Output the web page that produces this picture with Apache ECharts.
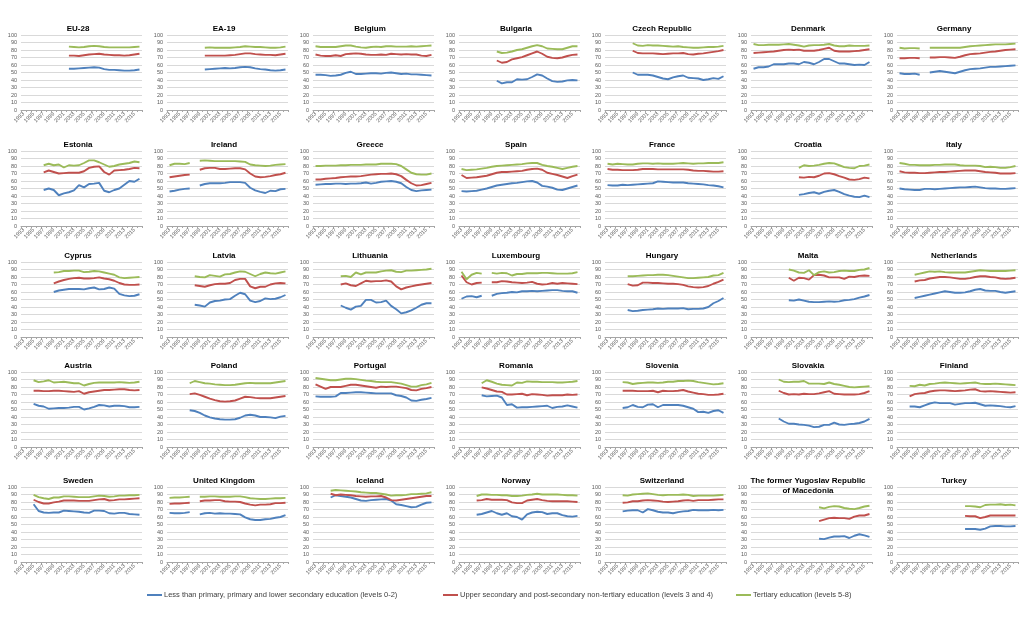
<!DOCTYPE html>
<html lang="en">
<head>
    <meta charset="UTF-8">
    <title>Employment rate by educational attainment</title>
    <script src="https://cdn.jsdelivr.net/npm/echarts@6/dist/echarts.min.js"></script>
    <style>
        html, body { margin: 0; padding: 0; background: #fff; }
        #main { width: 1024px; height: 618px; }
    </style>
</head>
<body>
<div id="main"></div>
<script type="text/javascript">
    var years = ['1993', '1994', '1995', '1996', '1997', '1998', '1999', '2000', '2001', '2002', '2003', '2004',
        '2005', '2006', '2007', '2008', '2009', '2010', '2011', '2012', '2013', '2014', '2015', '2016'];
    var yTicks = [0, 10, 20, 30, 40, 50, 60, 70, 80, 90, 100];
    var seriesNames = [
        'Less than primary, primary and lower secondary education (levels 0-2)',
        'Upper secondary and post-secondary non-tertiary education (levels 3 and 4)',
        'Tertiary education (levels 5-8)'
    ];

    var countries = ['EU-28', 'EA-19', 'Belgium', 'Bulgaria', 'Czech Republic', 'Denmark', 'Germany',
        'Estonia', 'Ireland', 'Greece', 'Spain', 'France', 'Croatia', 'Italy',
        'Cyprus', 'Latvia', 'Lithuania', 'Luxembourg', 'Hungary', 'Malta', 'Netherlands',
        'Austria', 'Poland', 'Portugal', 'Romania', 'Slovenia', 'Slovakia', 'Finland',
        'Sweden', 'United Kingdom', 'Iceland', 'Norway', 'Switzerland', 'The former Yugoslav Republic\nof Macedonia', 'Turkey'];

    // first year with data, per country
    var startYear = [2002, 2000, 1993, 2000, 1998, 1993, 1993,
        1997, 1993, 1993, 1993, 1993, 2002, 1993,
        1999, 1998, 1998, 1993, 1997, 2000, 1996,
        1995, 1997, 1993, 1997, 1996, 1998, 1995,
        1995, 1993, 1996, 1996, 1996, 2006, 2006];

    // levels 0-2
    var low = [
        [55, 55, 55.5, 56, 56.5, 57, 56.5, 54.5, 53.5, 53.5, 53, 52.5, 52.5, 53, 54],
        [54, 54.5, 55, 55.5, 56, 55.5, 56, 57, 57.5, 57, 55.5, 54.5, 54, 53, 52.5, 53, 54],
        [47, 47, 46.5, 45.5, 46, 47, 49.5, 51, 48, 48, 48.5, 49, 49, 48.5, 49.5, 50, 49, 48, 48.5, 47.5, 47.5, 47, 46.5, 46],
        [39, 35.5, 37, 37, 41, 40.5, 41, 44, 47.5, 46, 42, 38.5, 37.5, 38, 39.5, 40, 39.5],
        [50, 47, 47, 47, 46, 44, 42, 41, 43.5, 45, 46, 43, 42.5, 42, 40, 41, 42.5, 41.5, 45],
        [55, 57, 57, 58, 61, 61, 61, 62, 62, 61, 64, 63, 61, 64, 68, 68, 65, 62, 62, 61, 60, 60.5, 60, 64],
        [49, 48, 48, 48.5, 47, null, 50, 51, 52, 51, 50, 49, 51, 53, 54.5, 55, 55.5, 56.5, 57.5, 57.5, 58, 58.5, 59, 59.5],
        [48, 50, 48, 41, 43.5, 45, 47.5, 54.5, 51.5, 56, 56.5, 57.5, 47, 45, 48, 50, 55, 60, 59, 63],
        [46, 47, 48.5, 49.5, 50, null, 54, 56, 57, 57, 57, 57.5, 58.5, 58.5, 58.5, 57.5, 51, 47.5, 45.5, 44, 47, 46.5, 49, 49.5],
        [55, 55.5, 56, 56, 56.5, 56.5, 56, 56.5, 56.5, 57, 58, 56.5, 57.5, 59, 59.5, 60, 59, 57, 52, 48, 46.5, 47.5, 48, 48.5],
        [46.5, 46, 46.5, 47, 48.5, 50, 52, 54, 55, 56, 57, 57.5, 58.5, 59.5, 60, 58, 53.5, 52.5, 51, 48.5, 48, 50, 52, 54],
        [54.5, 54, 54, 55, 54.5, 55, 55.5, 56, 56.5, 57, 59.5, 59, 58.5, 58, 58, 58, 57, 56.5, 56, 55.5, 54.5, 54, 53, 51.5],
        [41.5, 42.5, 44, 45, 43, 45.5, 47, 48, 45.5, 42.5, 40.5, 39, 38.5, 40.5, 38.5],
        [50, 49, 48.5, 48, 48, 49.5, 49.5, 49, 49.5, 50, 50.5, 51, 51.5, 51.5, 52, 52.5, 51.5, 50.5, 50, 50, 49.5, 49.5, 50, 50.5],
        [60, 62, 63, 64, 64, 64, 63.5, 65, 66, 63.5, 64, 66, 64.5, 57.5, 55.5, 54.5, 55, 57],
        [43, 42, 40.5, 46, 48, 48.5, 50, 50.5, 55, 59, 57, 48.5, 46.5, 48, 51.5, 50.5, 51, 53, 56],
        [42, 39, 36.5, 40.5, 41.5, 49.5, 49.5, 46, 46.5, 48.5, 41.5, 37, 31.5, 33, 35.5, 39, 43, 45, 45],
        [51, 54, 54.5, 53, 55, null, 55, 57.5, 58.5, 59, 60, 59.5, 61, 61, 61.5, 61, 61.5, 62, 62.5, 62.5, 61.5, 61, 61, 59],
        [36, 34.5, 35, 36, 36.5, 37, 38, 37.5, 38, 38, 38, 38.5, 37, 37.5, 37.5, 38, 40, 45, 48, 52],
        [49, 48.5, 50, 48.5, 47, 46.5, 46.5, 47, 47.5, 47, 47.5, 49, 49.5, 50.5, 52.5, 54, 56],
        [52, 53.5, 55, 56.5, 58, 59.5, 61, 60, 59, 59, 59.5, 61, 63, 64, 62, 61.5, 61.5, 60, 59, 60, 61],
        [57.5, 55, 54, 51, 51.5, 52, 52, 52.5, 53.5, 53.5, 50, 51.5, 53.5, 56, 55.5, 54, 55, 55, 54.5, 53, 53, 53.5],
        [49, 48, 45.5, 42, 39.5, 38, 37, 36.5, 36.5, 37, 39, 42, 43, 42, 40, 40, 39.5, 38.5, 40.5, 41.5],
        [67.5, 67, 67, 67, 67.5, 72, 72, 72.5, 73, 73, 72.5, 72, 71.5, 71.5, 71.5, 71.5, 69, 68, 66, 62, 61.5, 63, 64, 65.5],
        [69, 67.5, 68, 68.5, 66, 56, 57, 52.5, 53, 53, 53.5, 54, 54.5, 55, 52, 53.5, 54, 55.5, 54, 52.5],
        [52, 53, 56, 53.5, 53, 56.5, 57, 53, 56, 56, 56, 56, 55, 53, 51, 46.5, 47, 45.5, 48, 49, 45.5],
        [38, 34, 31, 31, 30, 29.5, 28.5, 26.5, 27, 29.5, 29.5, 32.5, 30, 29.5, 30.5, 31, 32, 34, 37.5],
        [54, 54, 53, 55.5, 58, 59.5, 58.5, 58.5, 58.5, 56.5, 57.5, 58.5, 58.5, 59, 57, 55, 55.5, 55, 54.5, 53.5, 53, 54.5],
        [77, 68, 66, 65.5, 66, 66, 68.5, 68, 67.5, 67, 66, 65.5, 68.5, 68.5, 68, 65, 64.5, 65.5, 65.5, 64, 63.5, 63],
        [65.5, 65, 65, 65.5, 66.5, null, 63.5, 65, 65.5, 64.5, 65, 64.5, 64.5, 64, 63.5, 59.5, 57, 56, 56, 57, 57.5, 59, 60, 62.5],
        [86, 89, 88, 87, 86, 84, 82, 81.5, 82.5, 83, 83.5, 84, 82, 77, 76, 74.5, 73, 73.5, 76.5, 79, 79.5],
        [63, 64, 66, 68, 65, 63, 65, 61, 60, 56.5, 63.5, 66, 67, 66.5, 64, 65, 65, 62.5, 61, 60.5, 61.5],
        [67.5, 68.5, 69, 69, 66, 70.5, 69, 67, 66, 66, 65, 66.5, 67.5, 68, 69.5, 69, 69, 69, 69.5, 69, 69.5],
        [31, 30.5, 32.5, 34, 34, 34.5, 32, 35, 37, 35.5, 33.5],
        [44, 44, 44, 43, 44.5, 47.5, 48, 48, 47.5, 47.5, 48]
    ];

    // levels 3 and 4
    var mid = [
        [72.5, 72.5, 72, 73, 74, 74.5, 75, 74, 73.5, 73, 73, 72.5, 73, 74, 75],
        [72.5, 72.5, 72.5, 72.5, 72.5, 73, 73.5, 74.5, 75.5, 75.5, 74.5, 74, 73.5, 73.5, 73, 74, 75],
        [74, 72.5, 72, 72, 73, 72, 74.5, 75, 75.5, 75, 74, 73.5, 73.5, 74, 73.5, 75, 74.5, 74, 74.5, 74, 74, 72.5, 72, 73.5],
        [66, 63, 64, 67.5, 69, 70.5, 73, 75.5, 78, 75, 71, 69.5, 69, 70, 72, 73.5, 74],
        [79, 76, 75.5, 75.5, 75.5, 75, 74.5, 75, 75.5, 75.5, 76, 74.5, 74, 75, 75.5, 76.5, 77.5, 78.5, 80],
        [76, 76.5, 77, 77.5, 78, 79, 80, 80.5, 80, 80.5, 79, 79, 79, 80, 81.5, 83, 79, 78, 78, 78, 78.5, 79, 80, 81],
        [69, 69, 69.5, 69.5, 69, null, 70, 70, 70.5, 70.5, 70, 69.5, 71, 73, 74.5, 75, 75.5, 76.5, 77.5, 78, 79, 80, 80.5, 81],
        [71.5, 74, 72, 70, 70.5, 71, 71, 71, 73, 77.5, 79, 79.5, 72, 68.5, 74, 74.5, 75, 76, 77.5, 77],
        [65, 66, 67, 68, 68.5, null, 75, 77, 77.5, 77.5, 76, 76, 76.5, 77, 77, 75.5, 70, 66, 65, 65.5, 66.5, 68, 69, 71],
        [62, 62, 63, 63.5, 64, 65, 65.5, 66, 66, 66.5, 67.5, 68.5, 69, 69.5, 69.5, 70, 69, 66.5, 61.5, 57, 54, 54.5, 56, 57.5],
        [68, 64, 64.5, 65, 66, 67, 69, 71, 72, 72, 72.5, 73, 73.5, 75, 76, 76.5, 75, 71, 69.5, 68, 66, 64, 66.5, 68.5],
        [76, 75, 75, 74.5, 74.5, 74.5, 75, 76, 76, 76, 75.5, 75.5, 75.5, 75.5, 75.5, 75.5, 75, 74, 73.5, 73.5, 73, 72.5, 72.5, 73],
        [65, 64.5, 65.5, 65, 67, 70, 70.5, 69, 66.5, 64.5, 62, 61.5, 62.5, 64.5, 63.5],
        [73, 71.5, 71, 71, 70.5, 70.5, 71, 71.5, 72, 72, 72.5, 73, 73.5, 74, 74, 74, 73, 72, 71.5, 71, 70, 70, 70, 70.5],
        [71.5, 74, 76, 77.5, 78.5, 79, 78, 78, 78.5, 79.5, 78, 77, 75, 72, 70, 69.5, 69.5, 70],
        [69, 68, 67, 69, 70.5, 71, 71, 72, 76, 77.5, 77.5, 67.5, 65, 67, 67, 70, 71.5, 72, 71.5],
        [70, 71.5, 69, 68, 71.5, 75, 74, 74.5, 74.5, 75.5, 74, 67.5, 63.5, 66, 67.5, 69, 70, 71, 72],
        [82, 73, 70, 72, 72.5, null, 73, 73, 74.5, 74, 73, 72.5, 72, 72.5, 73.5, 71, 70, 70.5, 72, 71, 72, 71.5, 71, 70.5],
        [70.5, 68.5, 69, 72.5, 72.5, 72, 72, 71.5, 71, 71, 70.5, 69.5, 67.5, 66.5, 66, 66.5, 68, 71, 73.5, 76.5],
        [79, 75, 79, 78.5, 76.5, 82.5, 83, 82, 79.5, 79.5, 79.5, 77.5, 80.5, 80, 81.5, 82, 81.5],
        [74, 75.5, 76, 78, 79, 80, 80, 79.5, 78.5, 77.5, 77.5, 78.5, 80, 81, 81, 80, 79.5, 78, 77.5, 78, 79],
        [75, 75, 74.5, 74.5, 75, 75, 74.5, 74, 73.5, 74.5, 71, 73, 74, 75, 76, 76, 76.5, 77, 77, 76, 75.5, 76],
        [70.5, 71.5, 69.5, 67, 64.5, 62.5, 61, 60.5, 61, 62, 64.5, 67, 66.5, 65.5, 65, 65, 65, 66, 67, 68],
        [83.5, 80.5, 77.5, 80, 80, 80, 81.5, 83, 83, 82, 81, 80, 79, 80.5, 80, 80.5, 80.5, 79.5, 78.5, 76, 75.5, 77.5, 78.5, 80],
        [79.5, 78, 76, 74, 73.5, 70, 70, 70.5, 71, 69, 70.5, 70, 69.5, 68.5, 69, 69, 69, 70, 69.5, 70],
        [75, 75, 75, 74.5, 74.5, 74.5, 75, 73, 75, 74.5, 74.5, 75, 76, 74, 72.5, 71, 70.5, 69.5, 69.5, 70, 71],
        [75, 72, 70, 70.5, 70, 71, 70.5, 70.5, 71.5, 73, 74.5, 71, 70.5, 70, 70, 70, 70.5, 72, 74.5],
        [67.5, 70.5, 71.5, 72, 74, 75, 75.5, 75.5, 75, 74.5, 75, 75.5, 76.5, 77, 74.5, 74, 74.5, 74, 73.5, 73, 72.5, 73],
        [83, 80, 78, 78, 79.5, 80.5, 82, 82, 82, 81.5, 81.5, 81.5, 82.5, 83.5, 84, 82, 82.5, 83.5, 83.5, 84, 84.5, 85],
        [77.5, 78, 78, 78.5, 79, null, 81, 82, 82, 82.5, 82.5, 81, 80.5, 80.5, 80, 78, 76.5, 75.5, 76.5, 76.5, 77, 78.5, 78.5, 79],
        [91, 89, 90, 89.5, 89, 88, 87.5, 87, 87.5, 87.5, 88, 86, 82.5, 82, 83, 84, 85, 86, 87, 88, 88],
        [82, 82.5, 84, 83, 83, 83, 82.5, 79.5, 78.5, 78.5, 82, 83, 84, 82.5, 81.5, 81, 81, 81, 81, 80.5, 80],
        [79, 79.5, 81, 81, 82, 82.5, 82, 81.5, 80.5, 80, 80.5, 81, 82, 82.5, 81.5, 82.5, 82.5, 82.5, 83, 83.5, 83.5],
        [54.5, 56.5, 58.5, 59, 58.5, 58.5, 57.5, 60.5, 62, 62, 64],
        [61.5, 61, 61, 58.5, 60, 62, 62, 62, 62, 62, 62]
    ];

    // levels 5-8
    var high = [
        [84.5, 84, 83.5, 84, 85, 85.5, 85, 84, 83.5, 83.5, 83.5, 83.5, 83.5, 84, 84.5],
        [83, 83.5, 83, 83, 83, 83, 83.5, 84, 85, 84.5, 84, 84, 83.5, 83, 83, 83.5, 84.5],
        [85, 84, 84, 84, 84, 85, 86, 86, 84.5, 83.5, 83, 84, 84.5, 84, 85, 85, 84.5, 84.5, 84.5, 85, 84.5, 85, 85.5, 86],
        [78, 76, 76.5, 78, 80, 81, 83, 85, 86.5, 85, 82, 81.5, 81, 81, 83, 85, 85],
        [89, 86, 85.5, 86.5, 86, 86, 85.5, 85, 84.5, 85, 84, 83.5, 83, 83, 83.5, 84, 84, 84.5, 85.5],
        [88, 86.5, 86.5, 87, 87, 87, 87.5, 88, 87, 86, 84.5, 86, 86.5, 86.5, 87, 88, 86, 85, 85, 86, 85.5, 85.5, 85.5, 86],
        [83, 82, 82.5, 82.5, 82, null, 83, 83, 83, 83, 83, 83, 83, 84, 85, 85.5, 86, 86.5, 87, 87.5, 87.5, 87.5, 88, 88.5],
        [81, 83, 81, 82, 78, 81, 80.5, 81, 84, 87.5, 87.5, 85, 82, 79, 80, 82, 83, 84, 86, 85],
        [81, 83, 83, 82.5, 84, null, 87, 87.5, 87, 86.5, 86.5, 86.5, 86.5, 86.5, 86, 85.5, 82, 81, 80.5, 80, 80.5, 81.5, 82, 82.5],
        [80, 80, 80.5, 80.5, 80.5, 81, 81, 81.5, 81.5, 81.5, 82, 82, 82, 83, 83, 83, 82.5, 80, 75.5, 71, 69, 68.5, 68.5, 70],
        [76, 74.5, 75, 75.5, 76.5, 77.5, 79, 80, 80.5, 81, 81.5, 82, 82.5, 83.5, 84, 84, 81.5, 80, 79, 77.5, 76, 77.5, 79, 80],
        [83, 82, 83, 82.5, 82, 82, 83, 83.5, 83.5, 83, 83.5, 83, 83, 83, 83.5, 84, 83.5, 83, 83.5, 83.5, 84, 84, 84, 85],
        [77.5, 81, 80, 80.5, 81.5, 83, 84, 83.5, 81, 78.5, 77.5, 77, 80, 80.5, 82],
        [84, 83, 81.5, 81.5, 81, 81, 81, 81.5, 81.5, 82, 82, 82, 81, 80.5, 80.5, 80.5, 80, 78.5, 79, 78.5, 77.5, 77.5, 78.5, 80],
        [86, 86.5, 88, 88, 88.5, 88.5, 86.5, 87, 88, 87.5, 86, 84.5, 83, 79.5, 78.5, 79, 79.5, 80],
        [81, 80, 79.5, 82.5, 81.5, 80.5, 83.5, 84, 86, 87.5, 87, 84, 81, 84, 86, 85, 84.5, 86, 87.5],
        [81, 81.5, 80, 86, 83.5, 86, 86, 86, 87.5, 88.5, 89, 87, 86.5, 88.5, 88.5, 89, 89.5, 90, 91],
        [87, 77, 83, 85.5, 84.5, null, 85.5, 84.5, 85.5, 85, 82, 84, 84, 85, 85, 85, 85.5, 85.5, 85, 84.5, 84.5, 84.5, 85, 86.5],
        [81, 81, 81.5, 82, 82.5, 82.5, 83, 83, 82.5, 81.5, 80.5, 79.5, 78.5, 78.5, 79, 79.5, 80, 82, 82.5, 85.5],
        [90, 88.5, 86, 85.5, 89, 82.5, 86.5, 87.5, 86, 86.5, 88, 88.5, 88, 88, 89.5, 90, 92],
        [83, 84.5, 86, 87.5, 87, 87.5, 86.5, 86, 86, 86, 86, 87, 88, 89, 88.5, 88, 88, 88, 88, 88.5, 89],
        [89, 86.5, 87.5, 89, 86, 86.5, 87, 86, 85, 85, 82, 84, 85.5, 86, 86, 86, 86, 86.5, 86, 85.5, 86, 87],
        [85, 88, 86.5, 85, 84.5, 83.5, 83, 82.5, 82.5, 83, 84, 85, 85.5, 85, 85, 85, 85, 86, 87, 88],
        [92, 91, 90, 89, 89, 90, 91, 91, 90.5, 89.5, 88.5, 88, 87, 86.5, 86.5, 86.5, 85.5, 84.5, 82.5, 80.5, 80.5, 82.5, 83.5, 85.5],
        [85, 89, 87, 84.5, 83, 82.5, 82, 86, 85.5, 87.5, 87, 87, 86.5, 86.5, 86.5, 86, 86, 86.5, 87, 88],
        [86.5, 86, 84, 85, 85.5, 86, 86, 85.5, 86, 87, 87, 88, 88, 88.5, 88, 86.5, 85.5, 84.5, 83.5, 84, 85],
        [90, 87, 86.5, 87, 87, 88, 84.5, 84.5, 84.5, 84, 86, 84, 83, 81.5, 80, 79.5, 80, 80.5, 81],
        [81.5, 81, 83, 82, 84, 84.5, 85.5, 86, 85.5, 85, 84.5, 85, 85.5, 86, 84.5, 84, 84, 84.5, 84, 83.5, 83, 82.5],
        [89.5, 86.5, 85, 84, 86, 86, 87.5, 87.5, 87, 86.5, 86.5, 86.5, 87.5, 88.5, 88, 87, 87.5, 88.5, 88.5, 89, 89, 89.5],
        [85.5, 86, 86, 86.5, 87, null, 87, 87, 87.5, 87.5, 87, 87, 87, 87.5, 87.5, 86.5, 85, 84.5, 84, 84, 84.5, 85, 85, 85.5],
        [95, 96, 95.5, 95, 94.5, 94, 93, 92.5, 92, 92, 91, 90, 88.5, 89, 89, 89.5, 90.5, 90.5, 91, 91.5, 93],
        [88, 90, 90, 89.5, 89.5, 89, 89, 88, 88, 88.5, 89.5, 90, 91, 90, 90, 90, 90, 89.5, 89, 89, 88.5],
        [89, 88.5, 90, 90.5, 91, 91.5, 90.5, 89.5, 89, 89.5, 89.5, 89.5, 90, 89.5, 88, 88.5, 88.5, 88.5, 88.5, 89, 89.5],
        [73, 71.5, 73.5, 74.5, 74, 72, 71, 70.5, 72, 74, 75],
        [74.5, 74.5, 74, 73, 76, 76.5, 76.5, 77, 76, 76.5, 75.5]
    ];

    var colors = ['#4F81BD', '#C0504D', '#9BBB59'];
    var rowTop = [35, 151, 262, 372, 487];
    var colLeft = 21, colStep = 146, plotW = 121, plotH = 75;
    var font = '"Liberation Sans", Arial, sans-serif';

    // put a country's values on the full year axis
    function pad(start, vals) {
        var out = [];
        for (var i = 0; i < years.length; i++) {
            var k = i - (start - 1993);
            out.push(k >= 0 && k < vals.length ? vals[k] : null);
        }
        return out;
    }

    var chart = echarts.init(document.getElementById('main'));
    var grids = [], xAxes = [], yAxes = [], titles = [], series = [];

    countries.forEach(function (name, i) {
        var col = i % 7, row = Math.floor(i / 7);
        var left = colLeft + col * colStep, top = rowTop[row];
        grids.push({left: left, top: top, width: plotW, height: plotH, containLabel: false});
        titles.push({
            text: name,
            left: left + 57,
            top: top - 11,
            textAlign: 'center',
            padding: 0,
            textStyle: {fontFamily: font, fontSize: 8, fontWeight: 'bold', color: '#000', lineHeight: 10}
        });
        xAxes.push({
            type: 'category',
            gridIndex: i,
            data: years,
            boundaryGap: true,
            axisLine: {lineStyle: {color: '#a6a6a6', width: 1}},
            axisTick: {show: true, interval: 0, length: 2, lineStyle: {color: '#a6a6a6'}},
            axisLabel: {interval: 1, rotate: 45, fontSize: 5.5, margin: 3, color: '#595959', fontFamily: font},
            splitLine: {show: false}
        });
        yAxes.push({
            type: 'value',
            gridIndex: i,
            min: yTicks[0],
            max: yTicks[yTicks.length - 1],
            interval: 10,
            axisLine: {show: false},
            axisTick: {show: false},
            axisLabel: {fontSize: 5.5, margin: 4, color: '#595959', fontFamily: font},
            splitLine: {lineStyle: {color: '#d9d9d9', width: 1}}
        });
        [low, mid, high].forEach(function (arr, s) {
            series.push({
                name: seriesNames[s],
                type: 'line',
                xAxisIndex: i,
                yAxisIndex: i,
                data: pad(startYear[i], arr[i]),
                symbol: 'none',
                connectNulls: false,
                lineStyle: {width: 1.9, color: colors[s]},
                itemStyle: {color: colors[s]}
            });
        });
    });

    var legendLeft = [147, 443, 736];
    var legends = seriesNames.map(function (n, s) {
        return {
            data: [n],
            left: legendLeft[s],
            top: 591,
            icon: 'rect',
            itemWidth: 15,
            itemHeight: 2,
            itemGap: 0,
            padding: 0,
            textStyle: {fontSize: 7.5, color: '#404040', fontFamily: font, padding: [0, 0, 0, -3]},
            selectedMode: false
        };
    });

    chart.setOption({
        animation: false,
        backgroundColor: '#fff',
        title: titles,
        grid: grids,
        xAxis: xAxes,
        yAxis: yAxes,
        legend: legends,
        series: series
    });
</script>
</body>
</html>
